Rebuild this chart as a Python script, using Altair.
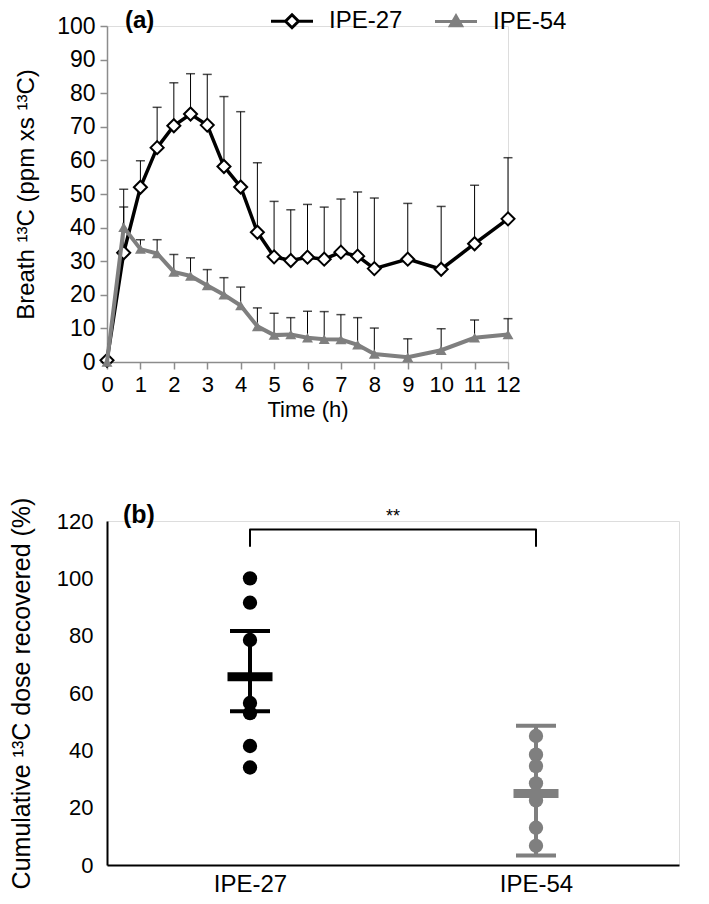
import altair as alt
import pandas as pd

FONT = "Liberation Sans"
GRAY = "#7f7f7f"
LIGHT_GRAY = "#a9a9a9"
AXIS_GRAY = "#8c8c8c"

# ---------------- panel (a): breath 13C time course ----------------
time_h = [0, 0.5, 1, 1.5, 2, 2.5, 3, 3.5, 4, 4.5, 5, 5.5, 6, 6.5, 7, 7.5, 8, 9, 10, 11, 12]
ipe27_mean = [0.5, 32.5, 52.0, 63.8, 70.3, 73.8, 70.5, 58.2, 52.1, 38.6, 31.3, 30.2, 31.2, 30.6,
              32.7, 31.5, 27.8, 30.6, 27.6, 35.2, 42.6]
ipe27_upper = [0.5, 46.1, 59.9, 75.8, 83.1, 85.8, 85.6, 79.0, 74.5, 59.3, 47.8, 45.3, 46.9, 46.1,
               48.5, 50.6, 48.8, 47.2, 46.3, 52.6, 60.8]
ipe54_mean = [0.0, 40.1, 33.6, 32.3, 26.8, 25.6, 22.8, 20.0, 16.8, 10.6, 8.0, 8.2, 7.2, 6.8,
              6.7, 5.1, 2.4, 1.4, 3.5, 7.2, 8.2]
ipe54_upper = [0.0, 51.4, 36.4, 36.4, 32.0, 31.0, 27.5, 25.1, 22.3, 16.1, 14.5, 13.2, 15.1, 15.0,
               14.1, 13.2, 10.1, 6.9, 9.9, 12.5, 12.9]
series_names = ["IPE-27", "IPE-54"]
x_ticks_a = list(range(0, 13))
y_ticks_a = list(range(0, 101, 10))

# ---------------- panel (b): cumulative dose recovered ----------------
group_names = ["IPE-27", "IPE-54"]
ipe27_points = [100.0, 91.5, 78.5, 56.5, 53.0, 41.5, 34.0]
ipe54_points = [45.0, 38.5, 34.5, 28.5, 22.5, 13.0, 6.7]
group_means = [65.7, 24.9]
group_lower = [53.6, 3.3]
group_upper = [81.6, 48.6]
bracket_top = 117
bracket_bottom = 111
star_y = 121.5
star_label = "**"
y_ticks_b = list(range(0, 121, 20))

# ---------------- tables ----------------
n = len(time_h)
df_a = pd.DataFrame({
    "t": time_h * 2,
    "mean": ipe27_mean + ipe54_mean,
    "upper": ipe27_upper + ipe54_upper,
    "series": [series_names[0]] * n + [series_names[1]] * n,
})
df_err = df_a[df_a["upper"] > df_a["mean"] + 0.01]

df_pts = pd.DataFrame({
    "idx": [0] * len(ipe27_points) + [1] * len(ipe54_points),
    "value": ipe27_points + ipe54_points,
    "group": [group_names[0]] * len(ipe27_points) + [group_names[1]] * len(ipe54_points),
})
df_sum = pd.DataFrame({
    "idx": [0, 1], "group": group_names,
    "mean": group_means, "lo": group_lower, "hi": group_upper,
})
df_legs = pd.DataFrame({"idx": [0, 1], "top": [bracket_top] * 2, "bottom": [bracket_bottom] * 2})
df_bar = pd.DataFrame({"x1": [0], "x2": [1], "top": [bracket_top]})
df_star = pd.DataFrame({"x": [0.5], "y": [star_y], "label": [star_label]})

# ---------------- panel (a) chart ----------------
y_title_a = "Breath \u00b9\u00b3C (ppm xs \u00b9\u00b3C)"
axis_x_a = alt.Axis(values=x_ticks_a, title="Time (h)", grid=False, format="d",
                    domainColor=AXIS_GRAY, domainWidth=1.5, tickColor=AXIS_GRAY, tickWidth=1.5,
                    tickSize=7, labelFont=FONT, labelFontSize=22, labelColor="black", labelPadding=5,
                    titleFont=FONT, titleFontSize=22, titleFontWeight="normal", titleColor="black",
                    titlePadding=4, labelFlush=False)
axis_y_a = alt.Axis(values=y_ticks_a, title=y_title_a, grid=False,
                    domainColor=AXIS_GRAY, domainWidth=1.5, tickColor=AXIS_GRAY, tickWidth=1.5,
                    tickSize=7, labelFont=FONT, labelFontSize=23, labelColor="black", labelPadding=5,
                    titleFont=FONT, titleFontSize=24, titleFontWeight="normal", titleColor="black",
                    titlePadding=18, labelFlush=False)
xs_a = alt.Scale(domain=[0, 12], nice=False, zero=False)
ys_a = alt.Scale(domain=[0, 100], nice=False)

X_a = alt.X("t:Q", scale=xs_a, axis=axis_x_a)

stems_a = alt.Chart(df_err).mark_rule(color="black", strokeWidth=1).encode(
    x=X_a,
    y=alt.Y("mean:Q", scale=ys_a, axis=axis_y_a),
    y2="upper:Q",
)
caps_a = alt.Chart(df_err).mark_tick(orient="horizontal", size=9, thickness=1.5, color="black").encode(
    x=X_a, y=alt.Y("upper:Q", scale=ys_a, axis=axis_y_a),
)
line27 = alt.Chart(df_a).transform_filter(alt.datum.series == series_names[0]).mark_line(
    color="black", strokeWidth=3.5).encode(x=X_a, y=alt.Y("mean:Q", scale=ys_a, axis=axis_y_a))
pts27 = alt.Chart(df_a).transform_filter(alt.datum.series == series_names[0]).mark_point(
    shape="diamond", size=170, filled=True, fill="white", stroke="black", strokeWidth=2, opacity=1
).encode(x=X_a, y=alt.Y("mean:Q", scale=ys_a, axis=axis_y_a))
line54 = alt.Chart(df_a).transform_filter(alt.datum.series == series_names[1]).mark_line(
    color=GRAY, strokeWidth=4).encode(x=X_a, y=alt.Y("mean:Q", scale=ys_a, axis=axis_y_a))
pts54 = alt.Chart(df_a).transform_filter(alt.datum.series == series_names[1]).mark_point(
    shape="triangle-up", size=120, filled=True, color=GRAY, opacity=1
).encode(x=X_a, y=alt.Y("mean:Q", scale=ys_a, axis=axis_y_a))

# legend symbols: line with marker (unit = 10 px for symbolSize 400)
path27 = "M-2.1,0L-0.65,0M0,-0.65L0.65,0L0,0.65L-0.65,0ZM0.65,0L2.1,0"
path54 = "M-2.1,0L2.1,0M-0.56,0.42L0.56,0.42L0,-0.56Z"
leg = alt.Legend(orient="none", legendX=173, legendY=-17, direction="horizontal", title=None,
                 labelFont=FONT, labelFontSize=24, labelColor="black", symbolSize=400,
                 symbolStrokeWidth=3, labelOffset=25, columnPadding=26, symbolOpacity=1, padding=0)
legend_layer = alt.Chart(pd.DataFrame({"series": series_names, "t": [0, 0], "mean": [0, 0]})
                         ).transform_filter("false").mark_point(strokeWidth=3, opacity=1).encode(
    x=X_a, y=alt.Y("mean:Q", scale=ys_a, axis=axis_y_a),
    shape=alt.Shape("series:N", scale=alt.Scale(domain=series_names, range=[path27, path54]), legend=leg),
    fill=alt.Fill("series:N", scale=alt.Scale(domain=series_names, range=["white", GRAY]), legend=leg),
    stroke=alt.Stroke("series:N", scale=alt.Scale(domain=series_names, range=["black", GRAY]), legend=leg),
)

panel_a = alt.layer(stems_a, caps_a, line27, pts27, line54, pts54, legend_layer).properties(
    width=401, height=336,
    title=alt.TitleParams("(a)", anchor="start", frame="group", font=FONT, fontSize=24,
                          fontWeight="bold", color="black", offset=-37, baseline="alphabetic", dx=18),
)

# ---------------- panel (b) chart ----------------
label_expr = f"datum.value == 0 ? '{group_names[0]}' : '{group_names[1]}'"
axis_x_b = alt.Axis(values=[0, 1], labelExpr=label_expr, title=None, grid=False, ticks=False,
                    domainColor="black", domainWidth=2, labelFont=FONT, labelFontSize=24,
                    labelColor="black", labelPadding=7)
axis_y_b = alt.Axis(values=y_ticks_b, title="Cumulative \u00b9\u00b3C dose recovered (%)", grid=False,
                    ticks=False, domainColor="black", domainWidth=2, labelFont=FONT, labelFontSize=22,
                    labelColor="black", labelPadding=14, titleFont=FONT, titleFontSize=25,
                    titleFontWeight="normal", titleColor="black", titlePadding=22)
xs_b = alt.Scale(domain=[-0.5, 1.5], nice=False, zero=False)
ys_b = alt.Scale(domain=[0, 120], nice=False)
X_b = alt.X("idx:Q", scale=xs_b, axis=axis_x_b)
color_b = alt.Color("group:N", scale=alt.Scale(domain=group_names, range=["black", GRAY]), legend=None)
cap_color_b = alt.Color("group:N", scale=alt.Scale(domain=group_names, range=["black", LIGHT_GRAY]),
                        legend=None)

stems_b = alt.Chart(df_sum).mark_rule(strokeWidth=4).encode(
    x=X_b, y=alt.Y("lo:Q", scale=ys_b, axis=axis_y_b), y2="hi:Q", color=color_b)
points_b = alt.Chart(df_pts).mark_circle(size=205, opacity=1).encode(
    x=X_b, y=alt.Y("value:Q", scale=ys_b, axis=axis_y_b), color=color_b)
caps_lo = alt.Chart(df_sum).mark_tick(orient="horizontal", size=40, thickness=4, opacity=1).encode(
    x=X_b, y=alt.Y("lo:Q", scale=ys_b, axis=axis_y_b), color=cap_color_b)
caps_hi = alt.Chart(df_sum).mark_tick(orient="horizontal", size=40, thickness=4, opacity=1).encode(
    x=X_b, y=alt.Y("hi:Q", scale=ys_b, axis=axis_y_b), color=cap_color_b)
mean_b = alt.Chart(df_sum).mark_tick(orient="horizontal", size=45, thickness=9, opacity=1).encode(
    x=X_b, y=alt.Y("mean:Q", scale=ys_b, axis=axis_y_b), color=color_b)
legs_b = alt.Chart(df_legs).mark_rule(color="black", strokeWidth=2).encode(
    x=X_b, y=alt.Y("bottom:Q", scale=ys_b, axis=axis_y_b), y2="top:Q")
bar_b = alt.Chart(df_bar).mark_rule(color="black", strokeWidth=2, strokeCap="round").encode(
    x=alt.X("x1:Q", scale=xs_b, axis=axis_x_b), x2="x2:Q",
    y=alt.Y("top:Q", scale=ys_b, axis=axis_y_b))
star_b = alt.Chart(df_star).mark_text(font=FONT, fontSize=18, color="black", baseline="middle").encode(
    x=alt.X("x:Q", scale=xs_b, axis=axis_x_b), y=alt.Y("y:Q", scale=ys_b, axis=axis_y_b),
    text="label:N")

panel_b = alt.layer(stems_b, points_b, caps_lo, caps_hi, mean_b, legs_b, bar_b, star_b).properties(
    width=572, height=344,
    title=alt.TitleParams("(b)", anchor="start", frame="group", font=FONT, fontSize=25,
                          fontWeight="bold", color="black", offset=-51, baseline="alphabetic", dx=16),
)

chart = alt.vconcat(panel_a, panel_b, spacing=75).properties(
    padding={"left": 0, "top": 0, "right": 5, "bottom": 0}
).configure_view(stroke=None).configure(background="white")

chart.save("out.html", embed_options={"renderer": "svg", "actions": False})
